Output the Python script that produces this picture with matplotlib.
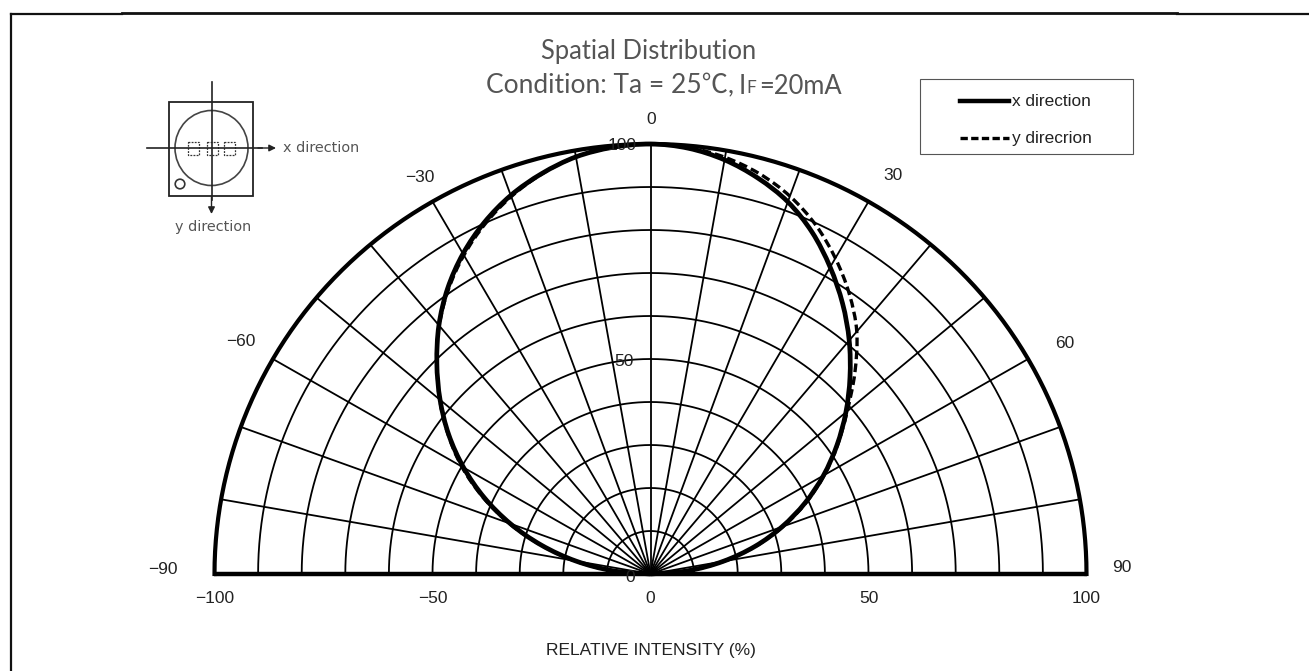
#!/usr/bin/env python3
# -*- coding: utf-8 -*-
"""Spatial distribution of an LED, drawn as a half polar chart on plain axes."""

import numpy as np
import matplotlib
matplotlib.use("Agg")
import matplotlib.pyplot as plt
from matplotlib.patches import Circle, Ellipse, PathPatch, Rectangle
from matplotlib.path import Path

W, H = 1309, 671

# ----------------------------------------------------------------------
# data
# ----------------------------------------------------------------------
angles = [-90, -85, -80, -75, -70, -65, -60, -55, -50, -45, -40, -35, -30, -25, -20, -15, -10, -5,
          0, 5, 10, 15, 20, 25, 30, 35, 40, 45, 50, 55, 60, 65, 70, 75, 80, 85, 90]
x_direction = [0, 8.7, 17.4, 25.9, 34.2, 42.1, 49.5, 56.5, 63, 69.3, 75.5, 81.1, 86, 90.2, 93.7, 96.4, 98.5, 99.6,
               100, 99.4, 97.8, 95.3, 92.1, 87.7, 82.4, 76.8, 70.9, 64.7, 58.5, 52.2, 45.8, 39.1, 32.1, 24.8, 16.9, 8.6, 0]
y_direction = [0, 8.8, 17.6, 26.1, 34.5, 42.5, 50, 56.7, 63.1, 69.3, 75.4, 80.8, 85.6, 89.8, 93.4, 96.3, 98.5, 99.6,
               100, 99.6, 98.4, 96.4, 93.5, 89.6, 84.8, 79.5, 73.6, 66.3, 58.9, 52.4, 46, 39.4, 32.4, 25, 17, 8.7, 0]

grid_radii = [10, 20, 30, 40, 50, 60, 70, 80, 90, 100]
grid_angles = [-80, -70, -60, -50, -40, -30, -20, -10, 0, 10, 20, 30, 40, 50, 60, 70, 80]
x_ticks = [-100, -50, 0, 50, 100]
angle_labels = ["0", "30", "60", "90", "\u221230", "\u221260", "\u221290"]
radius_labels = ["100", "50", "0"]


def polar_xy(theta_deg, r):
    th = np.deg2rad(np.asarray(theta_deg, dtype=float))
    r = np.asarray(r, dtype=float)
    return r * np.sin(th), r * np.cos(th)


def smooth_path(xs, ys):
    # bezier through the read points, so the curve has no corners
    pts = np.column_stack([xs, ys])
    verts = [pts[0]]
    codes = [Path.MOVETO]
    for i in range(len(pts) - 1):
        p0 = pts[max(i - 1, 0)]
        p1 = pts[i]
        p2 = pts[i + 1]
        p3 = pts[min(i + 2, len(pts) - 1)]
        verts += [p1 + (p2 - p0) / 6.0, p2 - (p3 - p1) / 6.0, p2]
        codes += [Path.CURVE4, Path.CURVE4, Path.CURVE4]
    return Path(verts, codes)


fig = plt.figure(figsize=(W / 100, H / 100), dpi=100, facecolor="white")
plt.rcParams["font.family"] = ["Liberation Sans", "DejaVu Sans"]

# ----------------------------------------------------------------------
# main chart
# ----------------------------------------------------------------------
ax = fig.add_axes([214.5 / W, (H - 574) / H, 872 / W, 430 / H])
ax.set_xlim(-100, 100)
ax.set_ylim(0, 100)
for s in ax.spines.values():
    s.set_visible(False)
ax.set_yticks([])
ax.set_xticks(x_ticks)
ax.set_xticklabels([str(v).replace("-", "\u2212") for v in x_ticks], fontsize=12.5, color="#222222")
ax.tick_params(axis="x", length=0, pad=12)
ax.set_xlabel("RELATIVE INTENSITY (%)", fontsize=12.5, color="#222222", labelpad=27)

sweep = np.linspace(-90, 90, 361)
for r in grid_radii:
    gx, gy = polar_xy(sweep, np.full_like(sweep, r))
    ax.plot(gx, gy, color="black", lw=3.0 if r == 100 else 1.3, clip_on=False, zorder=2)
for a in grid_angles:
    gx, gy = polar_xy([a, a], [0, 100])
    ax.plot(gx, gy, color="black", lw=1.3, clip_on=False, zorder=2)
ax.plot([-100, 100], [0, 0], color="black", lw=3.2, clip_on=False, zorder=3, solid_capstyle="butt")

px, py = polar_xy(angles, x_direction)
ax.add_patch(PathPatch(smooth_path(px, py), fc="none", ec="black", lw=3.4, clip_on=False, zorder=4))
qx, qy = polar_xy(angles, y_direction)
ax.add_patch(PathPatch(smooth_path(qx, qy), fc="none", ec="black", lw=2.4, ls=(0, (2.6, 1.3)), clip_on=False, zorder=4))

# ----------------------------------------------------------------------
# overlay in pixel coordinates: frame, title, legend box, package sketch
# ----------------------------------------------------------------------
ov = fig.add_axes([0, 0, 1, 1], facecolor="none")
ov.set_xlim(0, W)
ov.set_ylim(H, 0)
ov.axis("off")

ov.plot([11, 11], [14, H], color="#111111", lw=1.6)
ov.plot([11, 122], [14, 14], color="#111111", lw=1.6)
ov.plot([122, 1177], [13, 13], color="#111111", lw=2.0)
ov.plot([1177, W], [14, 14], color="#111111", lw=1.6)

label_pos = [(651, 120), (893, 175), (1065, 344), (1122, 567), (420, 177), (241, 342), (163, 570)]
for txt, (lx, ly) in zip(angle_labels, label_pos):
    ov.text(lx, ly, txt, ha="center", va="center", fontsize=12.5, color="#222222")
for txt, (lx, ly) in zip(radius_labels, [(622, 145), (624, 362), (630, 577)]):
    ov.text(lx, ly, txt, ha="center", va="center", fontsize=12.5, color="#222222", zorder=5)

title_font = dict(family=["Lato", "Noto Sans CJK JP"], color="#555555", va="center")
ov.text(649, 52, "Spatial Distribution", ha="center", fontsize=18.4, **title_font)
ov.text(486, 86, "Condition: Ta = 25\u2103,", ha="left", fontsize=19, **title_font)
ov.text(739, 86, "I", ha="left", fontsize=18.4, **title_font)
ov.text(746, 88, "F", ha="left", fontsize=12.5, **title_font)
ov.text(759, 86, "=20mA", ha="left", fontsize=18.4, **title_font)

# legend box
ov.add_patch(Rectangle((920, 79), 213, 75, fc="white", ec="#555555", lw=0.8, zorder=6))
ov.plot([960, 1009], [101, 101], color="black", lw=3.2, zorder=7)
ov.plot([960, 1009], [138, 138], color="black", lw=2.4, ls=(0, (2.2, 1.0)), zorder=7)
ov.text(1012, 102, "x direction", va="center", fontsize=12.4, color="#222222", zorder=7)
ov.text(1012, 139, "y direcrion", va="center", fontsize=12.4, color="#222222", zorder=7)

# package sketch
sk = "#222222"
ov.add_patch(Rectangle((169, 102), 84, 94, fc="none", ec=sk, lw=1.3))
ov.add_patch(Ellipse((211.5, 148), 73, 75, fc="none", ec="#444444", lw=1.2))
ov.add_patch(Circle((180, 184), 4.8, fc="none", ec="#333333", lw=1.2))
ov.plot([147, 262], [148, 148], color=sk, lw=1.2)
ov.plot([211.5, 211.5], [82, 200], color=sk, lw=1.2)
ov.annotate("", xy=(276, 148), xytext=(258, 148), arrowprops=dict(arrowstyle="-|>", color=sk, lw=1.0, shrinkA=0, shrinkB=0))
ov.annotate("", xy=(211.5, 214), xytext=(211.5, 196), arrowprops=dict(arrowstyle="-|>", color=sk, lw=1.0, shrinkA=0, shrinkB=0))
for bx in [188, 207, 224]:
    ov.add_patch(Rectangle((bx, 142), 10.5, 13, fc="none", ec="#333333", lw=0.9, ls=(0, (1.5, 1))))
ov.text(283, 148, "x direction", va="center", fontsize=10.4, color="#555555", family="DejaVu Sans")
ov.text(175, 227, "y direction", va="center", fontsize=10.4, color="#555555", family="DejaVu Sans")

fig.savefig("out.png", dpi=100)
